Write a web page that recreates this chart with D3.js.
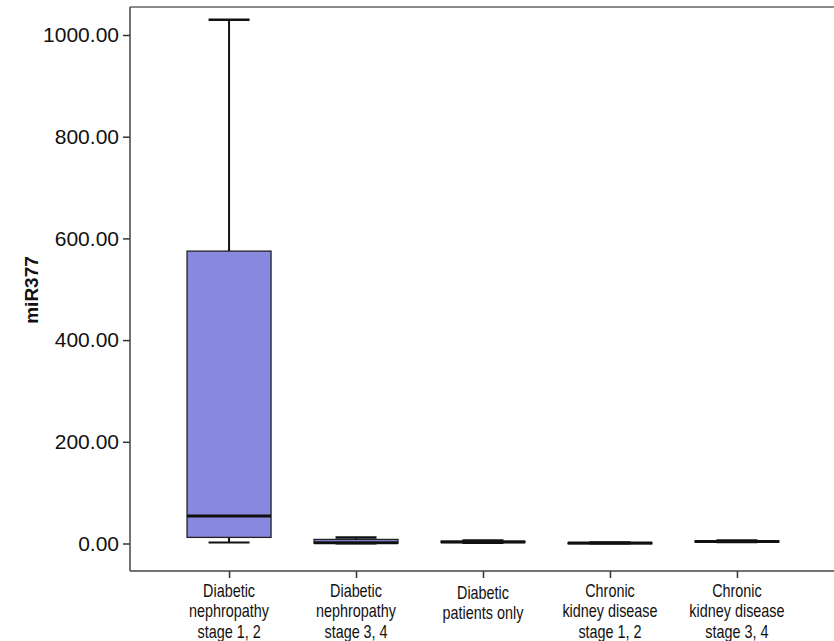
<!DOCTYPE html>
<html><head><meta charset="utf-8">
<script src="https://cdn.jsdelivr.net/npm/d3@7"></script>
<style>body{margin:0;background:#fff}svg{display:block}</style>
</head><body>
<svg id="c" width="834" height="641"></svg>
<script>
const categories = [
  ["Diabetic","nephropathy","stage 1, 2"],
  ["Diabetic","nephropathy","stage 3, 4"],
  ["Diabetic","patients only"],
  ["Chronic","kidney disease","stage 1, 2"],
  ["Chronic","kidney disease","stage 3, 4"]
];
const minVals    = [2,    0,   1,   0.2, 2.5];
const q1Vals     = [12,   0.5, 2,   0.5, 3];
const medianVals = [54,   1.5, 3,   1,   4];
const q3Vals     = [575,  8,   4.5, 1.5, 5];
const maxVals    = [1030, 12,  6,   2,   6];
const yTicks = [0, 200, 400, 600, 800, 1000];

(function () {
const svg = d3.select("#c");
const pLeft = 130, pRight = 836, pTop = 7, pBottom = 571;
const y = d3.scaleLinear().domain([0, 1000]).range([543.5, 35]);
const x = d3.scalePoint().domain(d3.range(categories.length)).range([pLeft, pRight]).padding(0.78);
const boxW = 84, capW = 41;
const font = "Liberation Sans, Arial, sans-serif";

// frame
svg.append("line").attr("x1", pLeft).attr("x2", pRight).attr("y1", pTop).attr("y2", pTop)
  .attr("stroke", "#666").attr("stroke-width", 1.5);

// y axis
const yAxis = svg.append("g").attr("transform", `translate(${pLeft},0)`)
  .call(d3.axisLeft(y).tickValues(yTicks).tickFormat(d3.format(".2f")).tickSize(7).tickPadding(4));
yAxis.select(".domain").remove();
yAxis.selectAll(".tick line").attr("stroke", "#333").attr("stroke-width", 1.5);
yAxis.selectAll(".tick text").attr("font-family", font)
  .attr("font-size", 21).attr("fill", "#111");
svg.append("line").attr("x1", pLeft).attr("x2", pLeft).attr("y1", pTop).attr("y2", pBottom)
  .attr("stroke", "#444").attr("stroke-width", 1.5);

// x axis
const xAxis = svg.append("g").attr("transform", `translate(0,${pBottom})`)
  .call(d3.axisBottom(x).tickSize(7).tickFormat(""));
xAxis.select(".domain").remove();
xAxis.selectAll(".tick line").attr("stroke", "#333").attr("stroke-width", 1.5);
svg.append("line").attr("x1", pLeft).attr("x2", pRight).attr("y1", pBottom).attr("y2", pBottom)
  .attr("stroke", "#444").attr("stroke-width", 1.5);

// x labels (narrow, condensed look)
categories.forEach((lines, i) => {
  const t = svg.append("text")
    .attr("transform", `translate(${x(i)},597) scale(0.8,1)`)
    .attr("text-anchor", "middle").attr("font-family", font)
    .attr("font-size", 18).attr("fill", "#111");
  lines.forEach((l, j) => {
    t.append("tspan").attr("x", 0)
      .attr("dy", j === 0 ? (lines.length === 2 ? 2 : 0) : 20.5).text(l);
  });
});

// y title
svg.append("text").attr("transform", "translate(38,290) rotate(-90)")
  .attr("text-anchor", "middle").attr("font-family", font)
  .attr("font-size", 19).attr("font-weight", "bold").attr("fill", "#111").text("miR377");

// boxes
const g = svg.append("g");
categories.forEach((c, i) => {
  const cx = x(i);
  g.append("line").attr("x1", cx).attr("x2", cx).attr("y1", y(q3Vals[i])).attr("y2", y(maxVals[i]))
    .attr("stroke", "#111").attr("stroke-width", 2);
  g.append("line").attr("x1", cx).attr("x2", cx).attr("y1", y(q1Vals[i])).attr("y2", y(minVals[i]))
    .attr("stroke", "#111").attr("stroke-width", 2);
  g.append("line").attr("x1", cx - capW/2).attr("x2", cx + capW/2).attr("y1", y(maxVals[i])).attr("y2", y(maxVals[i]))
    .attr("stroke", "#111").attr("stroke-width", 2.5);
  g.append("line").attr("x1", cx - capW/2).attr("x2", cx + capW/2).attr("y1", y(minVals[i])).attr("y2", y(minVals[i]))
    .attr("stroke", "#111").attr("stroke-width", 2);
  g.append("rect").attr("x", cx - boxW/2).attr("width", boxW)
    .attr("y", y(q3Vals[i])).attr("height", Math.max(1, y(q1Vals[i]) - y(q3Vals[i])))
    .attr("fill", "#8888de").attr("stroke", "#222").attr("stroke-width", 1.3);
  g.append("line").attr("x1", cx - boxW/2).attr("x2", cx + boxW/2).attr("y1", y(medianVals[i])).attr("y2", y(medianVals[i]))
    .attr("stroke", "#111").attr("stroke-width", 3);
});
})();
</script>
</body></html>
